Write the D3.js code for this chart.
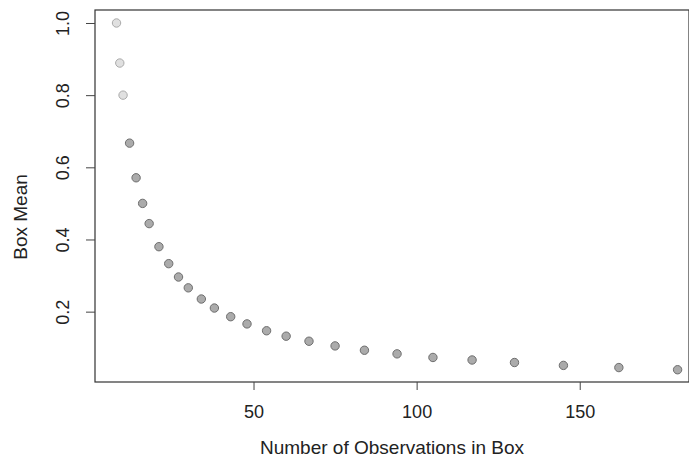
<!DOCTYPE html>
<html>
<head>
<meta charset="utf-8">
<script src="https://cdn.jsdelivr.net/npm/d3@7"></script>
<style>
  body { margin: 0; background: #fff; }
  text { font-family: "Liberation Sans", Arial, sans-serif; fill: #222; }
</style>
</head>
<body>
<div id="chart"></div>
<script>
// observations per box
const boxCounts = [8, 9, 10, 12, 14, 16, 18, 21, 24, 27, 30, 34, 38, 43, 48, 54, 60, 67, 75, 84, 94, 105, 117, 130, 145, 162, 180];
// mean of each box
const boxMeans = [1.0, 0.889, 0.8, 0.667, 0.571, 0.5, 0.444, 0.38, 0.333, 0.296, 0.266, 0.235, 0.21, 0.186, 0.166, 0.147, 0.132, 0.118, 0.105, 0.093, 0.083, 0.073, 0.066, 0.059, 0.051, 0.045, 0.039];
const xTicks = [50, 100, 150];
const yTicks = [0.2, 0.4, 0.6, 0.8, 1.0];

const width = 689, height = 458;
const margin = { top: 10, right: 0, bottom: 76, left: 95 };

const points = boxCounts.map((n, i) => ({ n: n, mean: boxMeans[i] }));

const svg = d3.select("#chart").append("svg")
  .attr("width", width)
  .attr("height", height);

const x = d3.scaleLinear()
  .domain([1.4, 183.5])
  .range([margin.left, width - margin.right]);

const y = d3.scaleLinear()
  .domain([0.005, 1.036])
  .range([height - margin.bottom, margin.top]);

// frame
svg.append("rect")
  .attr("x", margin.left)
  .attr("y", margin.top)
  .attr("width", width - margin.left - margin.right)
  .attr("height", height - margin.top - margin.bottom)
  .attr("fill", "none")
  .attr("stroke", "#333")
  .attr("stroke-width", 1.2);

const xAxis = svg.append("g")
  .attr("transform", `translate(0,${height - margin.bottom})`)
  .call(d3.axisBottom(x).tickValues(xTicks).tickSize(8).tickPadding(0).tickFormat(d3.format("d")));
xAxis.select(".domain").remove();
xAxis.selectAll("line").attr("stroke", "#444");
xAxis.selectAll("text")
  .attr("font-size", "18px")
  .style("fill", "#222")
  .attr("y", 30)
  .attr("dy", "0.35em");

const yAxis = svg.append("g")
  .attr("transform", `translate(${margin.left},0)`)
  .call(d3.axisLeft(y).tickValues(yTicks).tickSize(9).tickFormat(d3.format(".1f")));
yAxis.select(".domain").remove();
yAxis.selectAll("line").attr("stroke", "#444");
yAxis.selectAll("text")
  .attr("font-size", "18px")
  .style("fill", "#222")
  .attr("text-anchor", "middle")
  .attr("x", 0)
  .attr("y", 0)
  .attr("dy", "0.35em")
  .attr("transform", "translate(-32,0) rotate(-90)");

svg.append("g")
  .selectAll("circle")
  .data(points)
  .join("circle")
  .attr("cx", d => x(d.n))
  .attr("cy", d => y(d.mean))
  .attr("r", 4.2)
  .attr("fill", (d, i) => i < 3 ? "#e0e0e0" : "#ababab")
  .attr("stroke", (d, i) => i < 3 ? "#aaa" : "#6e6e6e")
  .attr("stroke-width", 1);

svg.append("text")
  .attr("x", (margin.left + width - margin.right) / 2)
  .attr("y", 447)
  .attr("dy", "0.35em")
  .attr("text-anchor", "middle")
  .attr("font-size", "19px")
  .text("Number of Observations in Box");

svg.append("text")
  .attr("transform", "translate(20,217) rotate(-90)")
  .attr("dy", "0.35em")
  .attr("text-anchor", "middle")
  .attr("font-size", "19px")
  .text("Box Mean");
</script>
</body>
</html>
